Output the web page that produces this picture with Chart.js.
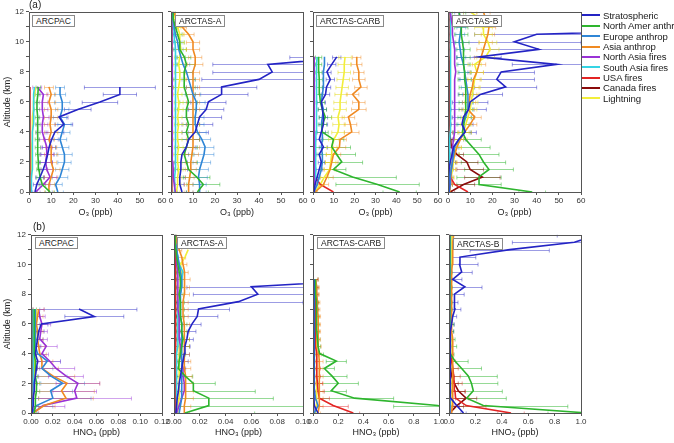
<!DOCTYPE html>
<html><head><meta charset="utf-8">
<script src="https://cdn.jsdelivr.net/npm/chart.js@4.4.0/dist/chart.umd.min.js"></script>
<style>
body{margin:0;background:#fff;}
#wrap{position:relative;width:674px;height:443px;overflow:hidden;font-family:"Liberation Sans",Arial,sans-serif;background:#fff;}
canvas{position:absolute;}
.lbl{position:absolute;background:#fff;border:1px solid #8a8a8a;font-size:8.5px;line-height:10px;padding:0 3px;color:#222;white-space:nowrap;}
.tag{position:absolute;font-size:10px;color:#222;}
.leg{position:absolute;left:582px;font-size:9.6px;color:#222;white-space:nowrap;line-height:10px;letter-spacing:-0.1px;}
.leg span{display:inline-block;width:18px;height:2px;vertical-align:middle;margin-right:3px;position:relative;top:-1px;}
</style></head><body><div id="wrap"></div>
<script>
// ---------- shared ----------
const SERIES = ["Stratospheric","North Amer anthrop","Europe anthrop","Asia anthrop","North Asia fires","South Asia fires","USA fires","Canada fires","Lightning"];
const COLORS = ["#2424c4","#2eb52e","#2f86d6","#f08a22","#9a32d6","#35d4e4","#e32424","#8a0a0a","#f2ee3a"];
const ERRCOLORS = ["rgba(36,36,196,0.45)","rgba(46,181,46,0.5)","rgba(47,134,214,0.45)","rgba(240,138,34,0.45)","rgba(154,50,214,0.45)","rgba(53,212,228,0.45)","rgba(227,36,36,0.45)","rgba(138,10,10,0.45)","rgba(230,220,40,0.55)"];
const ALT7 = [0,0.5,1,1.5,2,2.5,3,3.5,4,4.5,5,5.5,6,6.5,7];
const ALT9 = [0,0.5,1,1.5,2,2.5,3,3.5,4,4.5,5,5.5,6,6.5,7,7.5,8,8.5,9];
const ALT12 = [0,0.5,1,1.5,2,2.5,3,3.5,4,4.5,5,5.5,6,6.5,7,7.5,8,8.5,9,9.5,10,10.5,11,11.5,12];
const Y_TICKS = [0,2,4,6,8,10,12];

// ---------- O3 ARCPAC ----------
const o3ArcpacStrat = [2.7,3.5,5,6.4,7.6,8.4,9.1,10.2,11.7,15.7,13.6,22,32,41,41];
const o3ArcpacNAmer = [9.5,6,5,4.5,4.2,4,4,3.8,4,4,3.8,3.6,3.6,4,4.2];
const o3ArcpacEurope = [13,12,14,15,16,16,15,14,15,16,14,15,15,14,14];
const o3ArcpacAsia = [9,9,10,11,10,10,10,9,10,9.5,10,10,9,10,9];
const o3ArcpacNAsia = [3,6.5,9.5,8,7.5,8,8,7,6,6,6.5,6,6,6.5,3.7];
const o3ArcpacSAsia = [1,1,1.2,1.5,1.5,1.5,1.6,1.6,1.5,2,2,2.1,2,2.2,2.5];
const o3ArcpacUsa = [0.4,0.3,0.3,0.3,0.2,0.3,0.3,0.2,0.3,0.3,0.2,0.3,0.3,0.3,0.3];
const o3ArcpacCanada = [0.5,0.4,0.4,0.3,0.3,0.3,0.4,0.3,0.3,0.3,0.3,0.4,0.3,0.3,0.4];
const o3ArcpacLightning = [0.5,0.8,1,1,1.1,1.2,1.2,1.5,1.5,1.6,1.5,2,2,2.5,3];
const o3ArcpacStratErr = [1,1.5,2,2,3,3,3,3,4,4,4,6,8,7.5,16];
const o3ArcpacNAmerErr = [2,1.5,1.5,1,1,1,1.2,1,1,1,1,1.2,1,1,1];
const o3ArcpacEuropeErr = [2.5,3,3.5,3,3,3.5,3,3,3.5,3,3,3,3.5,2.5,2];
const o3ArcpacAsiaErr = [2,2.5,3,3,2.5,3,2.5,2.5,3,2.5,3,3,3,2,2];
const o3ArcpacNAsiaErr = [2,3,3,3,3,3,2.5,2.5,2.5,2.5,2.5,2.5,2.5,2,2];

// ---------- O3 ARCTAS-A ----------
const o3AStrat = [5,4,4,4.5,4.5,5,7,8,11,12,13,16,17,23,23,40,46,44,84,95,100,110,120,120,110];
const o3ANAmer = [12,14.7,11.7,8,7,6,7,8,7,8,7,7,8,7,6,6,6,7,6,4,4,3,2,1,1];
const o3AEurope = [13,13,12.5,13,14,15,15.5,14,12,11,11,11.5,11.5,10,9,8,7,5.5,4.5,3.5,3,2,1.5,1,0.5];
const o3AAsia = [8,8,8.5,9,9,9.5,10,10,10,10,10,10,10,10,10,10,10,11,11,10,10,8,5,3,1];
const o3ANAsia = [2,1.5,1,1,0.8,0.8,0.7,0.7,0.6,0.6,0.6,0.5,0.5,0.5,0.5,0.5,0.5,0.5,0.4,0.4,0.4,0.3,0.3,0.3,0.3];
const o3ASAsia = [1.5,1.5,1.8,2,2,2.1,2,2.2,2,2.1,2,2,2.2,2,2.1,2,2,1.9,2,2,1.8,1.5,1.2,1,0.8];
const o3AUsa = [0.3,0.3,0.2,0.2,0.2,0.2,0.2,0.2,0.2,0.2,0.2,0.2,0.2,0.2,0.2,0.2,0.2,0.2,0.2,0.2,0.2,0.2,0.2,0.2,0.2];
const o3ACanada = [0.4,0.4,0.3,0.3,0.3,0.3,0.3,0.3,0.3,0.3,0.3,0.3,0.3,0.3,0.3,0.3,0.3,0.3,0.3,0.3,0.3,0.3,0.3,0.3,0.3];
const o3ALightning = [2.5,3,3,3.5,3,3,3.5,3,3,3.5,3,3.5,3.5,3,3.5,4,4,3.5,4,4.5,4,4,3,2,1];
const o3AStratErr = [2,2,2.5,3,3,3,4,5,6,7,10,8,8,12,16,26,27,25,30,30,30,30,30,30,30];
const o3ANAmerErr = [5,7.5,6,5,5,4,5,5,5,5,4,4,4,4,5,5,4,4,3,3,2,2,1,1,1];
const o3AEuropeErr = [3,3,4,4,4,4.5,4,4,4,4,4,4,4,3.5,3,3,3,3,2,2,2,1,1,1,1];
const o3AAsiaErr = [2,2,2,2.5,2.5,3,3,3,3,3,3,3,3,3,3,3,3,3.5,3,3,3,2.5,2,1,1];
const o3ALightningErr = [1.5,1.5,2,2,2,2,2,2,2,2,2,2,2,2,2.5,2.5,2.5,2.5,2.5,2.5,2,2,1.5,1,1];

// ---------- O3 ARCTAS-CARB ----------
const o3CStrat = [0.5,1,2,3,4,3,5,3,4,5,5,4.5,4,6,6.5,8.3,6.7,9,11.4];
const o3CNAmer = [41.6,31,19,9.8,13.8,11.4,9,9.8,4.3,4.5,5.9,4.5,3.5,3.2,3,3,2.8,2.7,2.7];
const o3CEurope = [0.5,2,3,4,4.5,4.5,4,4.5,4.5,4,4.5,5,4,4.5,5,5,5,5.5,5.5];
const o3CAsia = [1,5,6.7,8.2,9,9.8,12.7,13,18.6,18,17,22,22,19,23,22,22,21,21];
const o3CNAsia = [0.3,0.5,0.5,0.6,0.6,0.5,0.6,0.6,0.7,0.6,0.6,0.5,0.6,0.6,0.7,0.6,0.6,0.5,0.6];
const o3CSAsia = [0.3,0.8,1,1.2,1.2,1.3,1.3,1.4,1.5,1.5,1.5,1.6,1.6,1.7,1.8,1.8,1.8,1.9,2];
const o3CUsa = [9.8,3.5,1,0.6,0.5,0.4,0.4,0.3,0.3,0.3,0.3,0.3,0.3,0.3,0.3,0.3,0.3,0.3,0.3];
const o3CCanada = [0.3,0.3,0.3,0.2,0.2,0.2,0.2,0.2,0.2,0.2,0.2,0.2,0.2,0.2,0.2,0.2,0.2,0.2,0.2];
const o3CLightning = [1,3.5,5.5,8,8.5,9,9,10,12,12.5,12,13,13,13.5,14,14.5,15,15,15.4];
const o3CStratErr = [0.5,1,1,1.5,1.5,1.5,2,1.5,2,2,2,2,2,2,2,2,2,2,2];
const o3CNAmerErr = [8,20,21,6,10,9,9,5,3,2,3,2,2,1.5,1.5,1.5,1.5,1.5,1.5];
const o3CAsiaErr = [1,2.5,3,3,3,3.5,3,3,3.5,3,3,3.5,3,3,3,3,2.5,2.5,2];
const o3CLightningErr = [1,2,2,2.5,2.5,2.5,2.5,2.5,3,3,3,3,3,3,3,3,3,3,3];

// ---------- O3 ARCTAS-B ----------
const o3BStrat = [0.3,0.3,0.3,0.5,1,1.8,2.5,4.8,7.8,6.3,7,9.3,10,14.6,26,22,24,49,14,41,30,40,150,160,170];
const o3BNAmer = [38,14,14,18.5,16,14,11,8,6.5,7,7.5,8,8,8,8,7.5,7.5,7,7,7,6.5,6,6,5.5,5];
const o3BEurope = [0.5,1,1,1.5,2,2.5,3,5,7.5,7,8,9,9,9,8.5,8,7.5,7,6,5.5,5,5.5,6,5.5,5];
const o3BAsia = [0.8,1,1.2,1.5,2,3,4,5.6,7.5,10,12,9,9.5,10,11,11.5,13,14,15,16,17,18,18.5,17,16];
const o3BNAsia = [0.5,1,1.2,1.5,2,2,2,2.5,3,3,3,3,3,3,3,3,3.5,3,3,3,2.5,2,2,1.5,1];
const o3BSAsia = [0.3,0.5,0.6,0.7,0.8,0.8,0.9,0.9,1,1,1,1,1,1,1.1,1.1,1.1,1.2,1.2,1.2,1.2,1.3,1.3,1.2,1.2];
const o3BUsa = [9,3,1,0.6,0.5,0.4,0.3,0.3,0.3,0.3,0.3,0.3,0.3,0.3,0.3,0.3,0.3,0.3,0.3,0.3,0.3,0.3,0.3,0.3,0.3];
const o3BCanada = [1,7,15.5,10,8.5,4,1.5,1.2,1,0.8,0.8,0.7,0.7,0.6,0.6,0.5,0.5,0.5,0.4,0.4,0.4,0.3,0.3,0.3,0.3];
const o3BLightning = [0.5,1,1.5,2,2.5,3,4,5,7,8,9,10,10.5,11,11.5,12,13,12,17,19,18,16,16,15,10];
const o3BStratErr = [0.3,0.3,0.5,0.5,1,1.5,2,3,5,5,5,8,8,10,14,17,15,20,10,25,30,28,30,30,30];
const o3BNAmerErr = [6,10,10,11,10,9,8,7,4,3,3,3,3,3,3,3,3,3,3,3,3,3,3,3,3];
const o3BEuropeErr = [0.5,1,1,1,1.5,1.5,2,2,2.5,2.5,2.5,2.5,2.5,2.5,2.5,2.5,2.5,2.5,2,2,2,2,2,2,2];
const o3BAsiaErr = [1,1,1.5,2,2,2,2,3,3,3,3,3,3,3,3,3,3,3,3,3,3,3,3,3,3];
const o3BCanadaErr = [2,5,8,6,5,3,1,1,1,0.5,0.5,0.5,0.5,0.5,0.5,0.5,0.5,0.5,0.5,0.5,0.5,0.5,0.5,0.5,0.5];
const o3BLightningErr = [1,1,1,1.5,1.5,2,2,2,2.5,2.5,3,3,3,3,3,3,3,3,4,4,4,4,4,4,3];

// ---------- HNO3 ARCPAC ----------
const hArcpacStrat = [0.001,0.002,0.002,0.003,0.003,0.004,0.005,0.006,0.004,0.005,0.006,0.007,0.0095,0.058,0.044];
const hArcpacNAmer = [0.003,0.004,0.004,0.005,0.005,0.004,0.004,0.004,0.003,0.003,0.003,0.003,0.003,0.003,0.003];
const hArcpacEurope = [0.001,0.005,0.020,0.018,0.029,0.018,0.010,0.015,0.006,0.004,0.004,0.004,0.004,0.004,0.004];
const hArcpacAsia = [0.002,0.012,0.032,0.028,0.033,0.020,0.010,0.010,0.008,0.007,0.006,0.006,0.005,0.006,0.007];
const hArcpacNAsia = [0.002,0.011,0.042,0.040,0.043,0.032,0.023,0.017,0.010,0.014,0.008,0.009,0.010,0.008,0.007];
const hArcpacSAsia = [0.001,0.001,0.002,0.002,0.002,0.002,0.002,0.002,0.002,0.002,0.002,0.002,0.002,0.002,0.002];
const hArcpacUsa = [0.0005,0.0005,0.0006,0.0006,0.0006,0.0006,0.0006,0.0006,0.0006,0.0006,0.0006,0.0006,0.0006,0.0006,0.0006];
const hArcpacCanada = [0.0008,0.0008,0.001,0.001,0.001,0.001,0.001,0.001,0.001,0.001,0.001,0.001,0.001,0.001,0.001];
const hArcpacLightning = [0.001,0.002,0.002,0.003,0.003,0.003,0.003,0.003,0.003,0.003,0.004,0.004,0.004,0.005,0.005];
const hArcpacStratErr = [0.001,0.002,0.002,0.002,0.003,0.003,0.003,0.004,0.004,0.004,0.005,0.005,0.006,0.027,0.053];
const hArcpacNAmerErr = [0.002,0.003,0.003,0.003,0.003,0.002,0.002,0.002,0.002,0.002,0.002,0.002,0.002,0.002,0.002];
const hArcpacEuropeErr = [0.005,0.015,0.035,0.02,0.02,0.015,0.01,0.012,0.005,0.004,0.004,0.004,0.004,0.004,0.004];
const hArcpacAsiaErr = [0.005,0.01,0.025,0.03,0.03,0.02,0.015,0.01,0.006,0.006,0.005,0.005,0.005,0.005,0.005];
const hArcpacNAsiaErr = [0.005,0.02,0.05,0.02,0.02,0.016,0.017,0.01,0.006,0.01,0.007,0.006,0.008,0.005,0.005];

// ---------- HNO3 ARCTAS-A ----------
const hAStrat = [0.0015,0.002,0.0025,0.0035,0.004,0.005,0.006,0.007,0.008,0.0085,0.010,0.011,0.014,0.018,0.019,0.050,0.065,0.060,0.16,0.22,0.28,0.3,0.35,0.3,0.25];
const hANAmer = [0.0085,0.027,0.027,0.015,0.015,0.0085,0.0035,0.004,0.005,0.006,0.007,0.006,0.006,0.005,0.005,0.005,0.004,0.005,0.005,0.004,0.003,0.002,0.0015,0.001,0.001];
const hAEurope = [0.004,0.005,0.006,0.006,0.006,0.006,0.006,0.006,0.006,0.006,0.006,0.006,0.006,0.005,0.005,0.005,0.005,0.006,0.006,0.005,0.004,0.003,0.002,0.001,0.001];
const hAAsia = [0.008,0.008,0.009,0.009,0.009,0.009,0.008,0.008,0.008,0.008,0.008,0.008,0.008,0.007,0.007,0.007,0.008,0.008,0.0085,0.008,0.007,0.006,0.004,0.002,0.001];
const hANAsia = [0.002,0.004,0.006,0.008,0.008,0.007,0.007,0.006,0.005,0.005,0.004,0.004,0.004,0.004,0.003,0.003,0.003,0.003,0.003,0.003,0.002,0.002,0.002,0.001,0.001];
const hASAsia = [0.002,0.002,0.002,0.002,0.002,0.002,0.002,0.002,0.002,0.003,0.003,0.003,0.003,0.003,0.003,0.004,0.005,0.006,0.006,0.007,0.004,0.003,0.002,0.001,0.001];
const hAUsa = [0.001,0.001,0.001,0.001,0.001,0.001,0.001,0.001,0.001,0.001,0.001,0.001,0.001,0.001,0.001,0.001,0.001,0.001,0.001,0.001,0.001,0.001,0.001,0.001,0.001];
const hACanada = [0.0012,0.0012,0.0012,0.0012,0.0012,0.0012,0.0012,0.0012,0.0012,0.0012,0.0012,0.0012,0.0012,0.0012,0.0012,0.0012,0.0012,0.0012,0.0012,0.0012,0.0012,0.0012,0.0012,0.0012,0.0012];
const hALightning = [0.003,0.003,0.004,0.004,0.004,0.004,0.004,0.004,0.004,0.004,0.004,0.004,0.004,0.004,0.004,0.004,0.004,0.005,0.005,0.006,0.005,0.0085,0.011,null,null];
const hAStratErr = [0.001,0.001,0.002,0.002,0.002,0.003,0.003,0.004,0.004,0.004,0.005,0.006,0.007,0.016,0.024,0.05,0.05,0.05,0.05,0.05,0.05,0.05,0.05,0.05,0.05];
const hANAmerErr = [0.054,0.08,0.05,0.048,0.017,0.006,0.004,0.004,0.004,0.006,0.005,0.004,0.004,0.003,0.003,0.003,0.003,0.003,0.003,0.002,0.002,0.001,0.001,0.001,0.001];
const hAAsiaErr = [0.004,0.005,0.006,0.006,0.006,0.005,0.005,0.005,0.004,0.004,0.004,0.004,0.004,0.004,0.004,0.004,0.004,0.004,0.004,0.003,0.003,0.003,0.002,0.001,0.001];

// ---------- HNO3 ARCTAS-CARB ----------
const hCStrat = [0.04,0.01,0.006,0.005,0.005,0.005,0.005,0.005,0.005,0.005,0.005,0.005,0.005,0.005,0.005,0.005,0.005,0.005,0.005];
const hCNAmer = [1.6,0.99,0.33,0.145,0.2,0.15,0.09,0.185,0.053,0.04,0.035,0.03,0.03,0.03,0.025,0.025,0.02,0.02,0.02];
const hCEurope = [0.01,0.04,0.02,0.012,0.01,0.01,0.01,0.01,0.01,0.01,0.01,0.01,0.01,0.01,0.01,0.01,0.01,0.01,0.01];
const hCAsia = [0.04,0.05,0.05,0.05,0.05,0.05,0.05,0.05,0.045,0.045,0.04,0.04,0.04,0.04,0.035,0.035,0.03,0.03,0.02];
const hCNAsia = [0.005,0.005,0.005,0.005,0.005,0.005,0.005,0.005,0.005,0.005,0.005,0.005,0.005,0.005,0.005,0.005,0.005,0.005,0.005];
const hCSAsia = [0.004,0.005,0.005,0.005,0.005,0.005,0.005,0.005,0.005,0.005,0.005,0.005,0.005,0.005,0.005,0.005,0.005,0.005,0.005];
const hCUsa = [0.32,0.16,0.05,0.04,0.035,0.03,0.03,0.03,0.03,0.02,0.02,0.02,0.02,0.02,0.02,0.02,0.02,0.02,0.02];
const hCCanada = [0.003,0.003,0.003,0.003,0.003,0.003,0.003,0.003,0.003,0.003,0.003,0.003,0.003,0.003,0.003,0.003,0.003,0.003,0.003];
const hCLightning = [0.02,0.03,0.03,0.03,0.03,0.03,0.03,0.03,0.03,0.03,0.03,0.03,0.025,0.025,0.025,0.02,0.02,0.02,0.02];
const hCNAmerErr = [0.3,0.35,0.31,0.12,0.16,0.12,0.08,0.08,0.03,0.02,0.02,0.02,0.02,0.02,0.02,0.02,0.02,0.02,0.02];
const hCUsaErr = [0.05,0.12,0.08,0.05,0.04,0.03,0.03,0.02,0.02,0.02,0.02,0.02,0.02,0.02,0.02,0.02,0.02,0.02,0.02];
const hCAsiaErr = [0.02,0.03,0.03,0.03,0.03,0.03,0.03,0.03,0.02,0.02,0.02,0.02,0.02,0.02,0.02,0.02,0.02,0.02,0.02];

// ---------- HNO3 ARCTAS-B ----------
const hBStrat = [0.11,0.058,0.013,0.01,0.01,0.01,0.008,0.008,0.008,0.01,0.012,0.015,0.02,0.028,0.045,0.038,0.045,0.12,0.028,0.096,0.08,0.083,0.46,0.95,1.12];
const hBNAmer = [1.05,0.26,0.134,0.184,0.17,0.146,0.096,0.045,0.008,0.008,0.006,0.006,0.006,0.006,0.005,0.005,0.005,0.005,0.005,0.005,0.005,0.005,0.005,0.005,0.005];
const hBEurope = [0.005,0.01,0.008,0.006,0.006,0.006,0.006,0.006,0.006,0.006,0.006,0.006,0.006,0.006,0.006,0.006,0.007,0.007,0.007,0.008,0.008,0.008,0.01,0.012,0.012];
const hBAsia = [0.02,0.025,0.03,0.03,0.03,0.03,0.03,0.03,0.025,0.025,0.025,0.02,0.02,0.02,0.02,0.02,0.02,0.02,0.02,0.02,0.025,0.025,0.03,0.03,0.035];
const hBNAsia = [0.005,0.005,0.005,0.005,0.005,0.005,0.005,0.005,0.005,0.005,0.005,0.005,0.005,0.005,0.005,0.005,0.005,0.005,0.005,0.005,0.005,0.005,0.005,0.005,0.005];
const hBSAsia = [0.004,0.004,0.005,0.005,0.005,0.005,0.005,0.005,0.005,0.005,0.005,0.005,0.005,0.005,0.005,0.005,0.005,0.005,0.005,0.005,0.005,0.005,0.006,0.006,0.006];
const hBUsa = [0.47,0.13,0.05,0.045,0.04,0.035,0.03,0.02,0.01,0.005,0.005,0.005,0.005,0.005,0.005,0.005,0.005,0.005,0.005,0.005,0.005,0.005,0.005,0.005,0.005];
const hBCanada = [0.005,0.06,0.13,0.07,0.04,0.02,0.01,0.005,0.003,0.003,0.003,0.003,0.003,0.003,0.003,0.003,0.003,0.003,0.003,0.003,0.003,0.003,0.003,0.003,0.003];
const hBLightning = [0.01,0.012,0.015,0.015,0.015,0.015,0.015,0.015,0.015,0.015,0.015,0.015,0.015,0.015,0.015,0.015,0.015,0.015,0.015,0.015,0.018,0.02,0.02,0.02,0.02];
const hBStratErr = [0.02,0.02,0.01,0.01,0.01,0.01,0.01,0.01,0.01,0.01,0.01,0.02,0.02,0.03,0.045,0.03,0.07,0.13,0.07,0.08,0.14,0.12,0.3,0.47,0.3];
const hBNAmerErr = [0.3,0.64,0.3,0.22,0.2,0.22,0.15,0.1,0.03,0.05,0.04,0.03,0.03,0.02,0.02,0.02,0.02,0.02,0.02,0.02,0.02,0.02,0.02,0.02,0.02];
const hBUsaErr = [0.1,0.15,0.1,0.08,0.06,0.05,0.04,0.03,0.02,0.01,0.01,0.01,0.01,0.01,0.01,0.01,0.01,0.01,0.01,0.01,0.01,0.01,0.01,0.01,0.01];
const hBCanadaErr = [0.01,0.05,0.08,0.05,0.03,0.02,0.01,0.01,0.005,0.005,0.005,0.005,0.005,0.005,0.005,0.005,0.005,0.005,0.005,0.005,0.005,0.005,0.005,0.005,0.005];

// ---------- panels ----------
const PANELS = [
  {L:29,R:162,T:11,B:192,xMax:60,step:10,dec:0,xt:"O\u2083 (ppb)",first:true,top:true,alts:ALT7,
   vals:[o3ArcpacStrat,o3ArcpacNAmer,o3ArcpacEurope,o3ArcpacAsia,o3ArcpacNAsia,o3ArcpacSAsia,o3ArcpacUsa,o3ArcpacCanada,o3ArcpacLightning],
   errs:[o3ArcpacStratErr,o3ArcpacNAmerErr,o3ArcpacEuropeErr,o3ArcpacAsiaErr,o3ArcpacNAsiaErr,null,null,null,null]},
  {L:171,R:303,T:11,B:192,xMax:60,step:10,dec:0,xt:"O\u2083 (ppb)",first:false,top:true,alts:ALT12,
   vals:[o3AStrat,o3ANAmer,o3AEurope,o3AAsia,o3ANAsia,o3ASAsia,o3AUsa,o3ACanada,o3ALightning],
   errs:[o3AStratErr,o3ANAmerErr,o3AEuropeErr,o3AAsiaErr,null,null,null,null,o3ALightningErr]},
  {L:313,R:438,T:11,B:192,xMax:60,step:10,dec:0,xt:"O\u2083 (ppb)",first:false,top:true,alts:ALT9,
   vals:[o3CStrat,o3CNAmer,o3CEurope,o3CAsia,o3CNAsia,o3CSAsia,o3CUsa,o3CCanada,o3CLightning],
   errs:[o3CStratErr,o3CNAmerErr,null,o3CAsiaErr,null,null,null,null,o3CLightningErr]},
  {L:448,R:581,T:11,B:192,xMax:60,step:10,dec:0,xt:"O\u2083 (ppb)",first:false,top:true,alts:ALT12,
   vals:[o3BStrat,o3BNAmer,o3BEurope,o3BAsia,o3BNAsia,o3BSAsia,o3BUsa,o3BCanada,o3BLightning],
   errs:[o3BStratErr,o3BNAmerErr,o3BEuropeErr,o3BAsiaErr,null,null,null,o3BCanadaErr,o3BLightningErr]},
  {L:31,R:162,T:234,B:413,xMax:0.12,step:0.02,dec:2,xt:"HNO\u2083 (ppb)",first:true,top:false,alts:ALT7,
   vals:[hArcpacStrat,hArcpacNAmer,hArcpacEurope,hArcpacAsia,hArcpacNAsia,hArcpacSAsia,hArcpacUsa,hArcpacCanada,hArcpacLightning],
   errs:[hArcpacStratErr,hArcpacNAmerErr,hArcpacEuropeErr,hArcpacAsiaErr,hArcpacNAsiaErr,null,null,null,null]},
  {L:174,R:303,T:234,B:413,xMax:0.10,step:0.02,dec:2,xt:"HNO\u2083 (ppb)",first:false,top:false,alts:ALT12,
   vals:[hAStrat,hANAmer,hAEurope,hAAsia,hANAsia,hASAsia,hAUsa,hACanada,hALightning],
   errs:[hAStratErr,hANAmerErr,null,hAAsiaErr,null,null,null,null,null]},
  {L:313,R:439,T:234,B:413,xMax:1.0,step:0.2,dec:1,xt:"HNO\u2083 (ppb)",first:false,top:false,alts:ALT9,
   vals:[hCStrat,hCNAmer,hCEurope,hCAsia,hCNAsia,hCSAsia,hCUsa,hCCanada,hCLightning],
   errs:[null,hCNAmerErr,null,hCAsiaErr,null,null,hCUsaErr,null,null]},
  {L:449,R:581,T:234,B:413,xMax:1.0,step:0.2,dec:1,xt:"HNO\u2083 (ppb)",first:false,top:false,alts:ALT12,
   vals:[hBStrat,hBNAmer,hBEurope,hBAsia,hBNAsia,hBSAsia,hBUsa,hBCanada,hBLightning],
   errs:[hBStratErr,hBNAmerErr,null,null,null,null,hBUsaErr,hBCanadaErr,null]}
];
const LABELS = [
  ["ARCPAC",32,15],["ARCTAS-A",175,15],["ARCTAS-CARB",316,15],["ARCTAS-B",452,15],
  ["ARCPAC",35,237],["ARCTAS-A",177,237],["ARCTAS-CARB",317,237],["ARCTAS-B",453,238]
];

const FONT = "'Liberation Sans', Arial, sans-serif";
const AXC = "#555";

const errorBars = {
  id:"errorBars",
  beforeDatasetsDraw(chart){
    const {ctx, chartArea:a, scales:{x,y}} = chart;
    ctx.save();
    ctx.beginPath(); ctx.rect(a.left, a.top, a.right-a.left, a.bottom-a.top); ctx.clip();
    chart.data.datasets.forEach(ds=>{
      if(!ds.errX) return;
      ctx.strokeStyle = ds.errColor; ctx.lineWidth = 1;
      ds.data.forEach((p,i)=>{
        const e = ds.errX[i];
        if(p.x==null || e==null) return;
        const yy = Math.round(y.getPixelForValue(p.y))+0.5;
        const x1 = x.getPixelForValue(p.x-e), x2 = x.getPixelForValue(p.x+e);
        ctx.beginPath();
        ctx.moveTo(x1,yy); ctx.lineTo(x2,yy);
        ctx.moveTo(x1,yy-2); ctx.lineTo(x1,yy+2);
        ctx.moveTo(x2,yy-2); ctx.lineTo(x2,yy+2);
        ctx.stroke();
      });
    });
    ctx.restore();
  }
};
const frame = {
  id:"frame",
  afterDraw(chart){
    const {ctx, chartArea:a} = chart;
    ctx.save(); ctx.strokeStyle = AXC; ctx.lineWidth = 1;
    const l = Math.round(a.left)+0.5, t = Math.round(a.top)+0.5;
    ctx.strokeRect(l, t, Math.round(a.right)-Math.round(a.left), Math.round(a.bottom)-Math.round(a.top));
    ctx.restore();
  }
};

const wrap = document.getElementById("wrap");
PANELS.forEach((p,pi)=>{
  const padT = 6, padR = 12;
  const cl = p.first ? 0 : p.L - 12;
  const yW = p.first ? p.L : 6;
  const padL = p.first ? 0 : 6;
  const xH = p.top ? 26 : 25;
  const cw = (p.L - cl) + (p.R - p.L) + padR;
  const ch = padT + (p.B - p.T) + xH;
  const cv = document.createElement("canvas");
  cv.width = cw; cv.height = ch;
  cv.style.left = cl + "px"; cv.style.top = (p.T - padT) + "px";
  cv.style.width = cw + "px"; cv.style.height = ch + "px";
  wrap.appendChild(cv);
  const datasets = SERIES.map((name,k)=>({
    label:name,
    data:p.alts.map((a,i)=>({x:p.vals[k][i], y:a})),
    borderColor:COLORS[k], backgroundColor:COLORS[k],
    errX:p.errs[k], errColor:ERRCOLORS[k],
    borderWidth:1.6, pointRadius:0, tension:0, fill:false
  }));
  new Chart(cv, {
    type:"line",
    data:{datasets},
    options:{
      indexAxis:"y",
      responsive:false, animation:false, devicePixelRatio:1,
      layout:{padding:{left:padL,right:padR,top:padT,bottom:0}},
      plugins:{legend:{display:false}, tooltip:{enabled:false}},
      scales:{
        x:{type:"linear", position:"bottom", min:0, max:p.xMax,
           ticks:{stepSize:p.step, autoSkip:false, maxRotation:0, padding:1, color:"#333",
                  font:{size:8, family:FONT}, callback:v=>Number(v).toFixed(p.dec)},
           grid:{drawOnChartArea:false, drawTicks:true, tickLength:3, tickColor:AXC, color:AXC},
           border:{display:false},
           title:{display:true, text:p.xt, color:"#222", font:{size:9, family:FONT}, padding:{top:0,bottom:0}},
           afterFit:s=>{s.height = xH;}},
        y:{type:"linear", position:"left", min:0, max:12,
           ticks:{stepSize:1, autoSkip:false, padding:2, color:"#333", font:{size:8, family:FONT},
                  callback:v=> (p.first && Y_TICKS.includes(v)) ? String(v) : ""},
           grid:{drawOnChartArea:false, drawTicks:true, tickLength:3, tickColor:AXC, color:AXC},
           border:{display:false},
           title:{display:p.first, text:"Altitude (km)", color:"#222", font:{size:9, family:FONT}, padding:{top:2,bottom:0}},
           afterFit:s=>{s.width = yW;}}
      }
    },
    plugins:[errorBars, frame]
  });
});

LABELS.forEach(([t,x,y])=>{
  const d = document.createElement("div");
  d.className = "lbl"; d.textContent = t;
  d.style.left = x + "px"; d.style.top = y + "px";
  wrap.appendChild(d);
});
[["(a)",29,-1],["(b)",33,221]].forEach(([t,x,y])=>{
  const d = document.createElement("div");
  d.className = "tag"; d.textContent = t;
  d.style.left = x + "px"; d.style.top = y + "px";
  wrap.appendChild(d);
});
SERIES.forEach((name,k)=>{
  const d = document.createElement("div");
  d.className = "leg";
  d.style.top = (16 + 10.35*k - 5) + "px";
  const s = document.createElement("span"); s.style.background = COLORS[k];
  d.appendChild(s);
  d.appendChild(document.createTextNode(name));
  wrap.appendChild(d);
});
</script></body></html>
